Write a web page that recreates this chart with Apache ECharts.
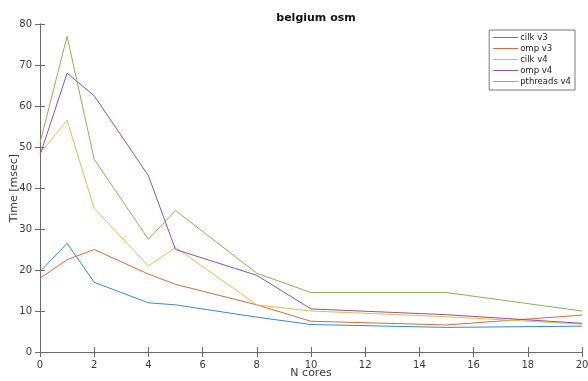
<!DOCTYPE html>
<html>
<head>
<meta charset="utf-8">
<script src="https://cdn.jsdelivr.net/npm/echarts@6/dist/echarts.min.js"></script>
<style>
  html, body { margin: 0; padding: 0; background: #fff; }
  #chart { width: 588px; height: 381px; }
</style>
</head>
<body>
<div id="chart"></div>
<script>
// N cores
var cores = [0, 1, 2, 4, 5, 8, 10, 15, 20];

var cilkV3 = [19.6, 26.5, 17, 12, 11.5, 8.5, 6.7, 6, 6.3];
var ompV3 = [18, 22.5, 25, 19, 16.5, 11.5, 7.5, 6.6, 9];
var cilkV4 = [48.5, 56.5, 35, 21, 25.5, 11.5, 10, 8.6, 6.8];
var ompV4 = [48, 68, 62.5, 43, 25, 18.7, 10.5, 9.1, 7];
var pthreadsV4 = [51, 77, 47, 27.5, 34.5, 19.2, 14.5, 14.5, 10];

var seriesNames = ["cilk v3", "omp v3", "cilk v4", "omp v4", "pthreads v4"];
var seriesData = [cilkV3, ompV3, cilkV4, ompV4, pthreadsV4];
var colors = ["#2e8fcf", "#e0683a", "#eebb3a", "#9450a8", "#86b84a"];

var chart = echarts.init(document.getElementById("chart"));

var axisGray = "#6b6b6b";
var labelStyle = { color: "#3a3a3a", fontSize: 10, fontFamily: "DejaVu Sans" };

function pairs(ys) {
    return cores.map(function (x, i) { return [x, ys[i]]; });
}

var option = {
    animation: false,
    backgroundColor: "#fff",
    title: {
        text: "belgium osm",
        left: 311,
        textAlign: "center",
        top: 8,
        textStyle: { fontSize: 11, fontWeight: "bold", color: "#111", fontFamily: "DejaVu Sans" }
    },
    legend: {
        orient: "vertical",
        right: 13,
        top: 30,
        icon: "rect",
        itemWidth: 25,
        itemHeight: 1,
        itemGap: 0,
        padding: [2, 4, 3, 4],
        backgroundColor: "#fff",
        borderColor: "#7a7a7a",
        borderWidth: 1,
        textStyle: { color: "#222", fontSize: 8.5, fontFamily: "DejaVu Sans", padding: [0, 0, 0, -3], height: 11, lineHeight: 11 },
        data: seriesNames
    },
    grid: { left: 40, right: 6, top: 24, bottom: 29, outerBoundsMode: "none", containLabel: false },
    xAxis: [{
        type: "value",
        min: 0, max: 20, interval: 2,
        name: "N cores",
        nameLocation: "middle",
        nameGap: 16,
        nameMoveOverlap: false,
        nameTextStyle: { color: "#3a3a3a", fontSize: 11, fontFamily: "DejaVu Sans" },
        axisLine: { lineStyle: { color: axisGray } },
        axisTick: { inside: true, length: 5, lineStyle: { color: axisGray } },
        axisLabel: labelStyle,
        splitLine: { show: false }
    }, {
        type: "value",
        position: "top",
        min: 0, max: 20, interval: 2,
        axisLine: { show: true, lineStyle: { color: axisGray } },
        axisTick: { show: true, inside: true, length: 5, lineStyle: { color: axisGray } },
        axisLabel: { show: false },
        splitLine: { show: false }
    }],
    yAxis: [{
        type: "value",
        min: 0, max: 80, interval: 10,
        name: "Time [msec]",
        nameLocation: "middle",
        nameGap: 20,
        nameMoveOverlap: false,
        nameTextStyle: { color: "#3a3a3a", fontSize: 11, fontFamily: "DejaVu Sans" },
        axisLine: { show: true, lineStyle: { color: axisGray } },
        axisTick: { show: true, inside: true, length: 5, lineStyle: { color: axisGray } },
        axisLabel: labelStyle,
        splitLine: { show: false }
    }, {
        type: "value",
        position: "right",
        min: 0, max: 80, interval: 10,
        axisLine: { show: true, lineStyle: { color: axisGray } },
        axisTick: { show: true, inside: true, length: 5, lineStyle: { color: axisGray } },
        axisLabel: { show: false },
        splitLine: { show: false }
    }],
    series: seriesNames.map(function (name, i) {
        return {
            name: name,
            type: "line",
            symbol: "none",
            color: colors[i],
            lineStyle: { width: 1, color: colors[i] },
            data: pairs(seriesData[i])
        };
    })
};

chart.setOption(option);
</script>
</body>
</html>
